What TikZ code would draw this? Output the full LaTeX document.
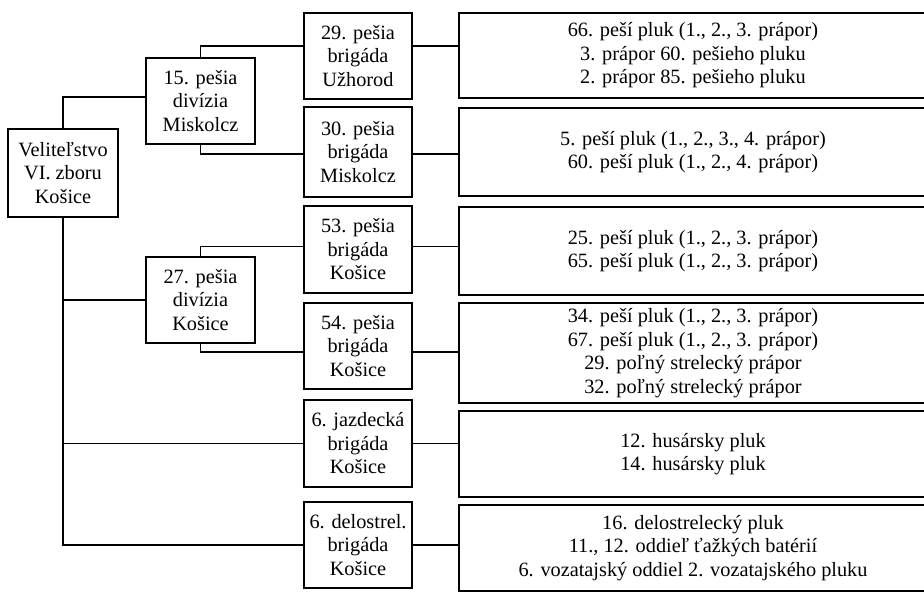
\documentclass[tikz,border=0pt]{standalone}
\usepackage{fontspec}
\setmainfont{Liberation Serif}
\usepackage{tikz}

\begin{document}
\begin{tikzpicture}[x=1pt,y=-1pt,
  unit/.style={draw=drawColor,line width=1.7pt,align=center,inner sep=0pt,outer sep=0pt,
    text=drawColor,font=\fontsize{20.3}{23.5}\selectfont},
  div/.style={unit,minimum width=109pt,minimum height=86pt},
  brig/.style={unit,minimum width=108pt},
  regs/.style={unit,minimum width=468pt},
  link/.style={draw=drawColor,line width=1.7pt,line join=miter}]
\definecolor{drawColor}{RGB}{0,0,0}
\path[use as bounding box] (0,0) rectangle (924,593);
\clip (0,0) rectangle (924,593);

\node[unit,minimum width=110pt,minimum height=88pt] (root) at ( 63.00,173.00) {Veliteľstvo\\VI. zboru\\Košice};

\node[div] (d15) at (200.50,101.00) {15. pešia\\divízia\\Miskolcz};
\node[div] (d27) at (200.50,300.00) {27. pešia\\divízia\\Košice};

\node[brig,minimum height=86pt] (b29) at (358.00, 56.00) {29. pešia\\brigáda\\Užhorod};
\node[brig,minimum height=90pt] (b30) at (358.00,152.00) {30. pešia\\brigáda\\Miskolcz};
\node[brig,minimum height=87pt] (b53) at (358.00,249.50) {53. pešia\\brigáda\\Košice};
\node[brig,minimum height=86pt] (b54) at (358.00,346.00) {54. pešia\\brigáda\\Košice};
\node[brig,minimum height=87pt] (b6j) at (358.00,443.50) {6. jazdecká\\brigáda\\Košice};
\node[brig,minimum height=86pt] (b6d) at (358.00,545.00) {6. delostrel.\\brigáda\\Košice};

\node[regs,minimum height=85pt] (r29) at (693.00, 55.50) {66. peší pluk (1., 2., 3. prápor)\\3. prápor 60. pešieho pluku\\2. prápor 85. pešieho pluku};
\node[regs,minimum height=88pt] (r30) at (693.00,152.00) {5. peší pluk (1., 2., 3., 4. prápor)\\60. peší pluk (1., 2., 4. prápor)};
\node[regs,minimum height=88pt] (r53) at (693.00,251.00) {25. peší pluk (1., 2., 3. prápor)\\65. peší pluk (1., 2., 3. prápor)};
\node[regs,minimum height=100pt] (r54) at (693.00,353.00) {34. peší pluk (1., 2., 3. prápor)\\67. peší pluk (1., 2., 3. prápor)\\29. poľný strelecký prápor\\32. poľný strelecký prápor};
\node[regs,minimum height=86pt] (r6j) at (693.00,454.00) {12. husársky pluk\\14. husársky pluk};
\node[regs,minimum height=86pt] (r6d) at (693.00,548.00) {16. delostrelecký pluk\\11., 12. oddieľ ťažkých batérií\\6. vozatajský oddiel 2. vozatajského pluku};

\path[link] (root.north) |- ([yshift=4pt]d15.west);
\path[link] (root.south) |- (b6d.west);
\path[link] (root.south |- d27.west) -- (d27.west);
\path[link] (root.south |- b6j.west) -- (b6j.west);

\path[link] (d15.north) |- ([yshift=10pt]b29.west);
\path[link] (d15.south) |- ([yshift=-2pt]b30.west);
\path[link] (d27.north) |- ([yshift=3pt]b53.west);
\path[link] (d27.south) |- ([yshift=-6pt]b54.west);

\path[link] ([yshift=10pt]b29.east) -- ([yshift=10pt]b29.east -| r29.west);
\path[link] ([yshift=-2pt]b30.east) -- ([yshift=-2pt]b30.east -| r30.west);
\path[link] ([yshift=3pt]b53.east) -- ([yshift=3pt]b53.east -| r53.west);
\path[link] ([yshift=-6pt]b54.east) -- ([yshift=-6pt]b54.east -| r54.west);
\path[link] (b6j.east) -- (b6j.east -| r6j.west);
\path[link] (b6d.east) -- (b6d.east -| r6d.west);
\end{tikzpicture}
\end{document}
